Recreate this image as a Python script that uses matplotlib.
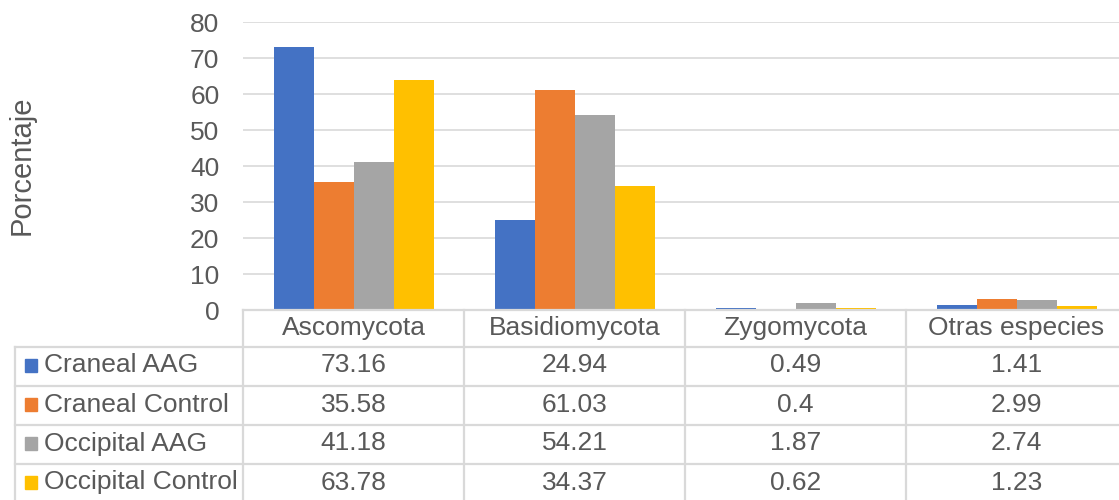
import matplotlib.pyplot as plt
from matplotlib.patches import Rectangle

plt.rcParams['font.family'] = ['Liberation Sans', 'DejaVu Sans']

# datos
categorias = ['Ascomycota', 'Basidiomycota', 'Zygomycota', 'Otras especies']
series = ['Craneal AAG', 'Craneal Control', 'Occipital AAG', 'Occipital Control']
craneal_aag = [73.16, 24.94, 0.49, 1.41]
craneal_control = [35.58, 61.03, 0.4, 2.99]
occipital_aag = [41.18, 54.21, 1.87, 2.74]
occipital_control = [63.78, 34.37, 0.62, 1.23]
valores = [craneal_aag, craneal_control, occipital_aag, occipital_control]
colores = ['#4472C4', '#ED7D31', '#A5A5A5', '#FFC000']
yticks = [0, 10, 20, 30, 40, 50, 60, 70, 80]

W, H = 1119, 500
gris_txt = '#595959'
gris_lin = '#D9D9D9'
fs = 19

fig = plt.figure(figsize=(W / 100, H / 100), dpi=100)

# geometria en pixeles
x0 = 243          # borde izquierdo del area de grafico
col_w = 221       # ancho de cada categoria
y_top, y_zero = 22, 310
row_h = 39
tab_left = 15

ax = fig.add_axes([x0 / W, (H - y_zero) / H, len(categorias) * col_w / W, (y_zero - y_top) / H])
ax.set_xlim(0, len(categorias))
ax.set_ylim(0, 80)
bw = 40 / col_w
for j, (vals, c) in enumerate(zip(valores, colores)):
    xs = [i + 0.5 + (j - 1.5) * bw for i in range(len(categorias))]
    ax.bar(xs, vals, width=bw, color=c, zorder=3)
ax.set_yticks(yticks)
ax.set_xticks([])
ax.yaxis.grid(True, color=gris_lin, lw=1.2, zorder=0)
ax.tick_params(axis='y', length=0, pad=17, labelsize=fs, labelcolor=gris_txt)
for s in ax.spines.values():
    s.set_visible(False)

# titulo del eje vertical
fig.text(22 / W, (H - 165) / H, 'Porcentaje', rotation=90, ha='center', va='center',
         fontsize=21, color=gris_txt)

# tabla de datos en coordenadas de pixel
tab = fig.add_axes([0, 0, 1, 1])
tab.set_xlim(0, W)
tab.set_ylim(H, 0)
tab.axis('off')
x_right = x0 + len(categorias) * col_w
n_rows = len(series)
y_bottom = y_zero + row_h * (n_rows + 1) - 2
lw = 1.6

tab.plot([x0, x_right], [y_zero, y_zero], color=gris_lin, lw=lw, clip_on=False)
for r in range(n_rows):
    y = y_zero + row_h * (r + 1) - 2
    tab.plot([tab_left, x_right], [y, y], color=gris_lin, lw=lw)
for i in range(len(categorias) + 1):
    x = x0 + i * col_w
    tab.plot([x, x], [y_zero, y_bottom], color=gris_lin, lw=lw)
tab.plot([tab_left, tab_left], [y_zero + row_h - 2, y_bottom], color=gris_lin, lw=lw)

for i, cat in enumerate(categorias):
    tab.text(x0 + (i + 0.5) * col_w, y_zero + row_h / 2 - 1, cat, ha='center', va='center',
             fontsize=fs, color=gris_txt)

for r, (nombre, vals, c) in enumerate(zip(series, valores, colores)):
    yc = y_zero + row_h * (r + 1.5) - 3
    tab.add_patch(Rectangle((25, yc - 6.5), 12, 13, color=c))
    tab.text(44, yc, nombre, ha='left', va='center', fontsize=fs, color=gris_txt)
    for i, v in enumerate(vals):
        tab.text(x0 + (i + 0.5) * col_w, yc, f'{v:g}', ha='center', va='center',
                 fontsize=fs, color=gris_txt)

fig.savefig('out.png', dpi=100)
